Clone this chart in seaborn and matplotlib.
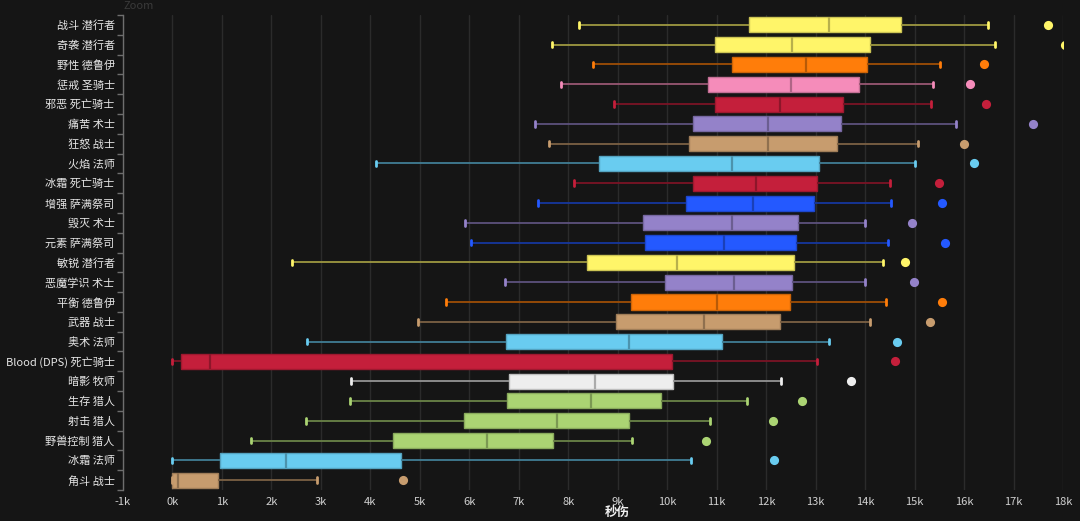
import numpy as np
import pandas as pd
import matplotlib
matplotlib.use("Agg")
from matplotlib import pyplot as plt
from matplotlib.colors import to_rgb
from matplotlib.ticker import FixedLocator, FuncFormatter
import seaborn as sns

# spec names, top to bottom
names = ['战斗 潜行者', '奇袭 潜行者', '野性 德鲁伊', '惩戒 圣骑士', '邪恶 死亡骑士',
         '痛苦 术士', '狂怒 战士', '火焰 法师', '冰霜 死亡骑士', '增强 萨满祭司',
         '毁灭 术士', '元素 萨满祭司', '敏锐 潜行者', '恶魔学识 术士', '平衡 德鲁伊',
         '武器 战士', '奥术 法师', 'Blood (DPS) 死亡骑士', '暗影 牧师', '生存 猎人',
         '射击 猎人', '野兽控制 猎人', '冰霜 法师', '角斗 战士']

# box stats in k dps
low = [8.22, 7.67, 8.49, 7.85, 8.93, 7.33, 7.61, 4.11, 8.12, 7.39, 5.91, 6.03,
       2.42, 6.72, 5.53, 4.96, 2.71, 0.00, 3.60, 3.58, 2.69, 1.58, 0.00, 0.00]
q1 = [11.66, 10.96, 11.30, 10.82, 10.97, 10.53, 10.45, 8.62, 10.53, 10.38, 9.51, 9.55,
      8.38, 9.96, 9.27, 8.97, 6.74, 0.18, 6.81, 6.76, 5.90, 4.45, 0.97, 0.00]
med = [13.28, 12.52, 12.80, 12.50, 12.28, 12.04, 12.04, 11.30, 11.80, 11.74, 11.30, 11.15,
       10.20, 11.36, 11.01, 10.75, 9.23, 0.75, 8.54, 8.46, 7.78, 6.35, 2.29, 0.12]
q3 = [14.73, 14.09, 14.03, 13.87, 13.55, 13.52, 13.44, 13.06, 13.02, 12.96, 12.65, 12.61,
      12.57, 12.53, 12.49, 12.27, 11.11, 10.10, 10.11, 9.87, 9.23, 7.69, 4.62, 0.93]
high = [16.49, 16.62, 15.52, 15.37, 15.33, 15.83, 15.06, 15.00, 14.51, 14.53, 13.99, 14.47,
        14.37, 13.99, 14.43, 14.09, 13.28, 13.02, 12.31, 11.61, 10.87, 9.29, 10.49, 2.93]
best = [17.69, 18.05, 16.40, 16.13, 16.45, 17.40, 15.99, 16.21, 15.49, 15.55, 14.94, 15.61,
        14.80, 14.98, 15.55, 15.32, 14.64, 14.60, 13.71, 12.73, 12.13, 10.79, 12.15, 4.66]

class_colors = {
    '潜行者': '#FFF569', '德鲁伊': '#FF7D0A', '圣骑士': '#F58CBA', '死亡骑士': '#C41F3B',
    '术士': '#9482C9', '战士': '#C79C6E', '法师': '#69CCF0', '萨满祭司': '#2459FF',
    '牧师': '#EEEEEE', '猎人': '#ABD473',
}

pal = {n: class_colors[n.split()[-1]] for n in names}


def shade(c, f):
    r, g, b = to_rgb(c)
    return (r * f, g * f, b * f)


rows = []
for i, n in enumerate(names):
    for v in (low[i], q1[i], med[i], q3[i], high[i]):
        rows.append({'spec': n, 'dps': v * 1000})
df = pd.DataFrame(rows)

bg = '#151515'
sns.set_style('dark')
plt.rcParams['font.family'] = ['Noto Sans CJK SC', 'DejaVu Sans']

fig = plt.figure(figsize=(10.8, 5.21), dpi=100, facecolor=bg)
ax = fig.add_axes([123 / 1080, 1 - 490 / 521, 940 / 1080, 475 / 521])
ax.set_facecolor(bg)

sns.boxplot(data=df, x='dps', y='spec', hue='spec', order=names, hue_order=names,
            palette=pal, whis=(0, 100), width=0.76, dodge=False, legend=False,
            linewidth=1, fliersize=0, capwidths=0.28, ax=ax)

for cont in ax.containers:
    if not hasattr(cont, 'medians'):
        continue
    idx = int(round(np.mean(cont.medians[0].get_ydata())))
    c = pal[names[idx]]
    for b in cont.boxes:
        b.set_facecolor(c)
        b.set_edgecolor(shade(c, 0.8))
        b.set_linewidth(1)
    for w in cont.whiskers:
        w.set_color(shade(c, 0.62))
        w.set_linewidth(1.3)
    for cp in cont.caps:
        cp.set_color(c)
        cp.set_linewidth(2)
    for m in cont.medians:
        m.set_color(shade(c, 0.72))
        m.set_linewidth(1.6)

sns.stripplot(x=[b * 1000 for b in best], y=names, hue=names, order=names, hue_order=names,
              palette=pal, jitter=False, size=6.6, linewidth=0, legend=False, ax=ax)

ax.set_xlim(-1000, 18000)
ax.set_ylim(len(names) - 0.5, -0.5)
ax.set_xticks(np.arange(-1000, 18001, 1000))
ax.xaxis.set_major_formatter(FuncFormatter(lambda v, p: f'{int(round(v / 1000))}k'))
ax.grid(axis='x', color='#2b2b2b', linewidth=1)
ax.grid(axis='y', visible=False)
ax.set_axisbelow(True)

ax.yaxis.set_minor_locator(FixedLocator(np.arange(-0.5, len(names), 1.0)))
ax.tick_params(axis='y', which='major', length=0, pad=6, labelsize=8, labelcolor='#e6e6e6')
ax.tick_params(axis='y', which='minor', length=4, width=1, color='#6e6e6e', left=True)
ax.tick_params(axis='x', which='major', length=0, pad=5, labelsize=8, labelcolor='#d0d0d0')

for s in ('top', 'right', 'bottom'):
    ax.spines[s].set_visible(False)
ax.spines['left'].set_visible(True)
ax.spines['left'].set_color('#6e6e6e')
ax.spines['left'].set_linewidth(1)

ax.set_ylabel('')
ax.set_xlabel('秒伤', color='#f0f0f0', fontsize=9, fontweight='bold')
ax.xaxis.label.set_va('bottom')
ax.xaxis.set_label_coords(0.526, -0.0615)

fig.text(123 / 1080, 1 - 1 / 521, 'Zoom', color='#3a3a3a', fontsize=8, va='top')

fig.savefig('out.png', dpi=100, facecolor=bg)
